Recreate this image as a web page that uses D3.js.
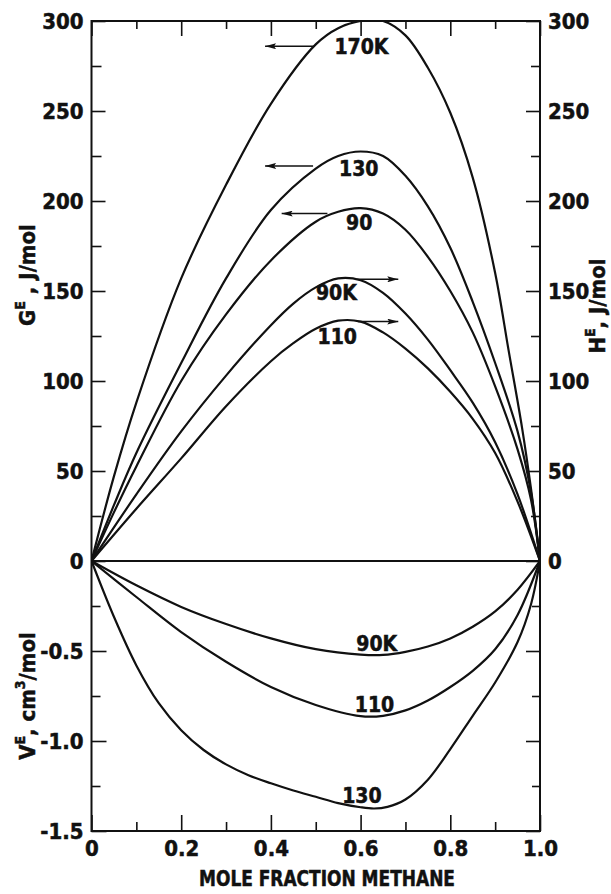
<!DOCTYPE html>
<html>
<head>
<meta charset="utf-8">
<script src="https://cdn.jsdelivr.net/npm/d3@7"></script>
<style>
  body { margin: 0; background: #fff; }
  svg text {
    font-family: "DejaVu Sans Condensed", "DejaVu Sans", sans-serif;
    font-stretch: condensed;
    font-weight: bold;
    fill: #111;
    stroke: #111;
    stroke-width: 0.5;
  }
</style>
</head>
<body>
<div id="chart"></div>
<script>
// G^E curves (left axis), J/mol
const ge170 = [[0,0],[0.05,47],[0.1,88],[0.2,157],[0.3,209],[0.4,254],[0.5,287],[0.55,296],[0.6,300],[0.65,300],[0.7,292],[0.75,274],[0.8,249],[0.85,213],[0.9,160],[0.93,117],[0.96,74],[0.98,40],[1,0]];
const ge130 = [[0,0],[0.05,31],[0.1,60],[0.2,110],[0.3,157],[0.4,195],[0.5,218],[0.55,225],[0.6,227.5],[0.65,225],[0.7,214],[0.75,197],[0.8,174],[0.85,144],[0.9,110],[0.95,72],[0.98,38],[1,0]];
const ge90 = [[0,0],[0.05,27],[0.1,52.5],[0.2,100],[0.3,137],[0.4,167],[0.5,188.5],[0.55,194],[0.6,196],[0.65,193],[0.7,184],[0.75,169],[0.8,150],[0.85,127],[0.9,97],[0.95,62],[0.98,34],[1,0]];
// H^E curves (right axis), J/mol
const he90 = [[0,0],[0.1,37],[0.2,72],[0.3,103],[0.4,131],[0.45,143],[0.5,152],[0.55,157],[0.6,156],[0.65,149],[0.7,137.5],[0.75,123],[0.8,106],[0.85,88],[0.9,66],[0.95,37],[1,0]];
const he110 = [[0,0],[0.1,29],[0.2,57],[0.3,86],[0.4,111],[0.45,121],[0.5,129],[0.55,133.5],[0.6,133],[0.65,127],[0.7,118],[0.75,107],[0.8,94],[0.85,79],[0.9,60],[0.95,33],[1,0]];
// V^E curves, cm3/mol
const ve90 = [[0,0],[0.1,-0.135],[0.2,-0.255],[0.3,-0.35],[0.4,-0.43],[0.5,-0.49],[0.6,-0.52],[0.65,-0.522],[0.7,-0.505],[0.75,-0.475],[0.8,-0.43],[0.85,-0.365],[0.9,-0.28],[0.95,-0.16],[1,0]];
const ve110 = [[0,0],[0.1,-0.2],[0.2,-0.395],[0.3,-0.56],[0.4,-0.7],[0.5,-0.8],[0.6,-0.862],[0.65,-0.86],[0.7,-0.83],[0.75,-0.775],[0.8,-0.7],[0.85,-0.61],[0.9,-0.49],[0.95,-0.3],[1,0]];
const ve130 = [[0,0],[0.05,-0.31],[0.1,-0.58],[0.15,-0.79],[0.2,-0.94],[0.25,-1.05],[0.3,-1.13],[0.35,-1.19],[0.4,-1.235],[0.45,-1.275],[0.5,-1.31],[0.55,-1.345],[0.6,-1.368],[0.63,-1.375],[0.66,-1.366],[0.7,-1.325],[0.75,-1.215],[0.8,-1.045],[0.85,-0.86],[0.9,-0.675],[0.95,-0.45],[0.98,-0.24],[1,0]];

// tick values
const xMajor = [0, 0.2, 0.4, 0.6, 0.8, 1.0];
const xMinor = [0.1, 0.3, 0.5, 0.7, 0.9];
const gMajor = [0, 50, 100, 150, 200, 250, 300];
const gMinor = [25, 75, 125, 175, 225, 275];
const vMajor = [-0.5, -1.0, -1.5];
const vMinor = [-0.25, -0.75, -1.25];

// curve labels (data units); arrows: [from x, to x, y]
const topLabels = [
  { text: "170K", x: 0.602, y: 286, arrow: [0.498, 0.387, 286] },
  { text: "130", x: 0.596, y: 218, arrow: [0.494, 0.387, 219.5] },
  { text: "90", x: 0.597, y: 188, arrow: [0.526, 0.424, 193] },
  { text: "90K", x: 0.546, y: 149, arrow: [0.591, 0.684, 156.5] },
  { text: "110", x: 0.548, y: 125, arrow: [0.594, 0.684, 133] }
];
const botLabels = [
  { text: "90K", x: 0.636, y: -0.458 },
  { text: "110", x: 0.631, y: -0.797 },
  { text: "130", x: 0.603, y: -1.305 }
];

const W = 611, H = 894;
const x0 = 91.5, x1 = 540, yT = 21, yZ = 561, yB = 831;

const svg = d3.select("#chart").append("svg")
  .attr("width", W).attr("height", H);

const x = d3.scaleLinear().domain([0, 1]).range([x0, x1]);
const yTop = d3.scaleLinear().domain([0, 300]).range([yZ, yT]);
const yBot = d3.scaleLinear().domain([-1.5, 0]).range([yB, yZ]);

const defs = svg.append("defs");
defs.append("marker")
  .attr("id", "head")
  .attr("viewBox", "0 0 11 6")
  .attr("refX", 11).attr("refY", 3)
  .attr("markerWidth", 11).attr("markerHeight", 6)
  .attr("markerUnits", "userSpaceOnUse")
  .attr("orient", "auto")
  .append("path").attr("d", "M0,0L11,3L0,6L2,3Z").attr("fill", "#111");
defs.append("clipPath").attr("id", "plot")
  .append("rect").attr("x", x0).attr("y", yT).attr("width", x1 - x0).attr("height", yB - yT);

function styleAxis(g) {
  g.select(".domain").remove();
  g.selectAll(".tick line").attr("stroke", "#111").attr("stroke-width", 1.6);
  g.selectAll(".tick text").attr("font-size", 22).attr("fill", "#111");
}

// left axis
svg.append("g").attr("transform", `translate(${x0},0)`)
  .call(d3.axisLeft(yTop).tickValues(gMajor).tickSizeInner(-14).tickSizeOuter(0).tickPadding(8).tickFormat(d3.format("d")))
  .call(styleAxis);
svg.append("g").attr("transform", `translate(${x0},0)`)
  .call(d3.axisLeft(yTop).tickValues(gMinor).tickSizeInner(-10).tickSizeOuter(0).tickFormat(""))
  .call(styleAxis);
svg.append("g").attr("transform", `translate(${x0},0)`)
  .call(d3.axisLeft(yBot).tickValues(vMajor).tickSizeInner(-15).tickSizeOuter(0).tickPadding(8).tickFormat((d) => d.toFixed(1)))
  .call(styleAxis);
svg.append("g").attr("transform", `translate(${x0},0)`)
  .call(d3.axisLeft(yBot).tickValues(vMinor).tickSizeInner(-9).tickSizeOuter(0).tickFormat(""))
  .call(styleAxis);

// right axis
svg.append("g").attr("transform", `translate(${x1},0)`)
  .call(d3.axisRight(yTop).tickValues(gMajor).tickSizeInner(-14).tickSizeOuter(0).tickPadding(8).tickFormat(d3.format("d")))
  .call(styleAxis);
svg.append("g").attr("transform", `translate(${x1},0)`)
  .call(d3.axisRight(yTop).tickValues(gMinor).tickSizeInner(-9).tickSizeOuter(0).tickFormat(""))
  .call(styleAxis);
svg.append("g").attr("transform", `translate(${x1},0)`)
  .call(d3.axisRight(yBot).tickValues(vMajor).tickSizeInner(-14).tickSizeOuter(0).tickFormat(""))
  .call(styleAxis);
svg.append("g").attr("transform", `translate(${x1},0)`)
  .call(d3.axisRight(yBot).tickValues(vMinor).tickSizeInner(-8).tickSizeOuter(0).tickFormat(""))
  .call(styleAxis);

// top axis
svg.append("g").attr("transform", `translate(0,${yT})`)
  .call(d3.axisTop(x).tickValues(xMajor).tickSizeInner(-15).tickSizeOuter(0).tickFormat(""))
  .call(styleAxis);
svg.append("g").attr("transform", `translate(0,${yT})`)
  .call(d3.axisTop(x).tickValues(xMinor).tickSizeInner(-8).tickSizeOuter(0).tickFormat(""))
  .call(styleAxis);

// bottom axis
svg.append("g").attr("transform", `translate(0,${yB})`)
  .call(d3.axisBottom(x).tickValues(xMajor).tickSizeInner(-16).tickSizeOuter(0).tickPadding(9)
    .tickFormat((d) => (d === 0 ? "0" : d.toFixed(1))))
  .call(styleAxis);
svg.append("g").attr("transform", `translate(0,${yB})`)
  .call(d3.axisBottom(x).tickValues(xMinor).tickSizeInner(-9).tickSizeOuter(0).tickFormat(""))
  .call(styleAxis);

// frame and zero line
svg.append("rect")
  .attr("x", x0).attr("y", yT).attr("width", x1 - x0).attr("height", yB - yT)
  .attr("fill", "none").attr("stroke", "#111").attr("stroke-width", 2);
svg.append("line")
  .attr("x1", x0).attr("x2", x1).attr("y1", yTop(0)).attr("y2", yTop(0))
  .attr("stroke", "#111").attr("stroke-width", 2);

// curves
const lineTop = d3.line().x((d) => x(d[0])).y((d) => yTop(d[1])).curve(d3.curveCatmullRom.alpha(0.5));
const lineBot = d3.line().x((d) => x(d[0])).y((d) => yBot(d[1])).curve(d3.curveCatmullRom.alpha(0.5));

const curves = svg.append("g").attr("clip-path", "url(#plot)");
[ge170, ge130, ge90, he90, he110].forEach((s) => {
  curves.append("path").attr("d", lineTop(s))
    .attr("fill", "none").attr("stroke", "#111").attr("stroke-width", 2.2);
});
[ve90, ve110, ve130].forEach((s) => {
  curves.append("path").attr("d", lineBot(s))
    .attr("fill", "none").attr("stroke", "#111").attr("stroke-width", 2.2);
});

// curve labels and arrows
topLabels.forEach((l) => {
  svg.append("text")
    .attr("x", x(l.x)).attr("y", yTop(l.y))
    .attr("text-anchor", "middle").attr("font-size", 21)
    .attr("dy", "0.36em")
    .text(l.text);
  svg.append("line")
    .attr("x1", x(l.arrow[0])).attr("x2", x(l.arrow[1]))
    .attr("y1", yTop(l.arrow[2])).attr("y2", yTop(l.arrow[2]))
    .attr("stroke", "#111").attr("stroke-width", 1.5)
    .attr("marker-end", "url(#head)");
});
botLabels.forEach((l) => {
  svg.append("text")
    .attr("x", x(l.x)).attr("y", yBot(l.y))
    .attr("text-anchor", "middle").attr("font-size", 21)
    .attr("dy", "0.36em")
    .text(l.text);
});

// axis titles
svg.append("text")
  .attr("x", 327).attr("y", 886)
  .attr("text-anchor", "middle").attr("font-size", 21)
  .attr("textLength", 256).attr("lengthAdjust", "spacingAndGlyphs")
  .text("MOLE FRACTION METHANE");

function yTitle(xPos, yPos, main, sup, rest) {
  const t = svg.append("text")
    .attr("transform", `translate(${xPos},${yPos}) rotate(-90)`)
    .attr("text-anchor", "middle").attr("font-size", 22);
  t.append("tspan").text(main);
  t.append("tspan").attr("font-size", 14).attr("dy", -10).text(sup);
  t.append("tspan").attr("dy", 10).text(rest);
  return t;
}
yTitle(35, 275, "G", "E", " , J/mol");
const vt = svg.append("text")
  .attr("transform", "translate(35,696) rotate(-90)")
  .attr("text-anchor", "middle").attr("font-size", 22);
vt.append("tspan").text("V");
vt.append("tspan").attr("font-size", 14).attr("dy", -10).text("E");
vt.append("tspan").attr("dy", 10).text(", cm");
vt.append("tspan").attr("font-size", 14).attr("dy", -10).text("3");
vt.append("tspan").attr("dy", 10).text("/mol");
yTitle(605, 306, "H", "E", ", J/mol");
</script>
</body>
</html>
